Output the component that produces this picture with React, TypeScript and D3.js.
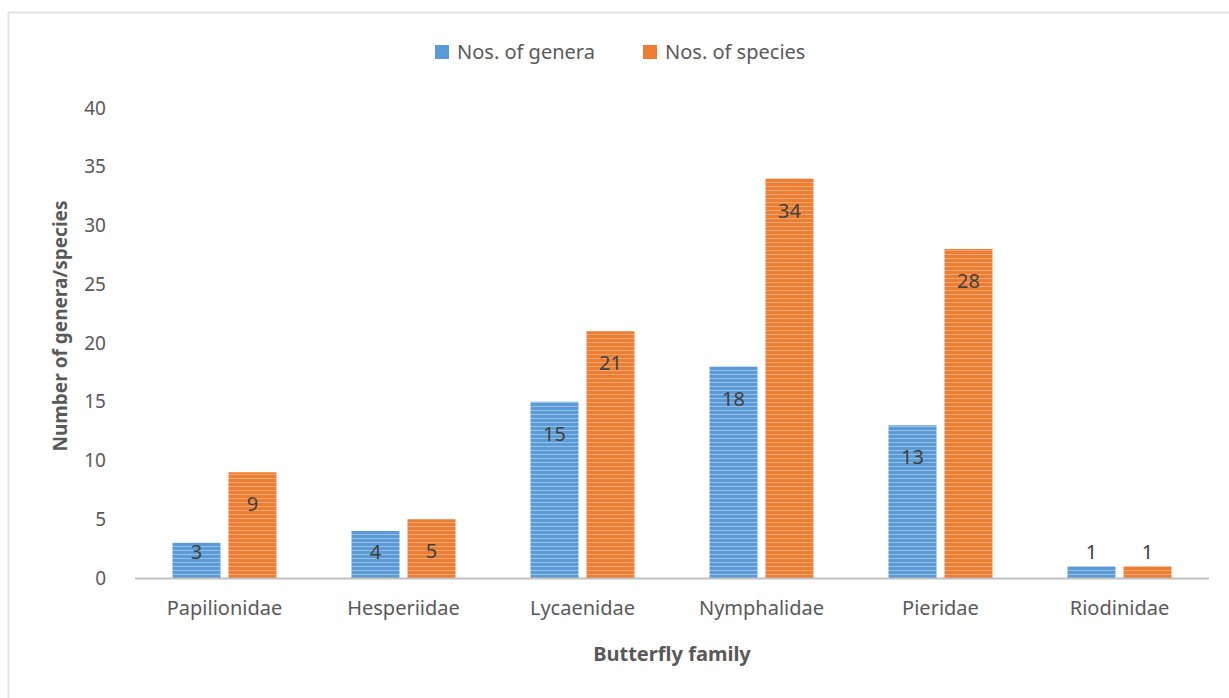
import React, { useEffect, useRef } from "react";
import * as d3 from "d3";

const families = ["Papilionidae", "Hesperiidae", "Lycaenidae", "Nymphalidae", "Pieridae", "Riodinidae"];
const genera = [3, 4, 15, 18, 13, 1];
const species = [9, 5, 21, 34, 28, 1];
const seriesNames = ["Nos. of genera", "Nos. of species"];
const yTicks = [0, 5, 10, 15, 20, 25, 30, 35, 40];

const colors = ["#5b9bd5", "#ed7d31"];
const stripes = ["#a9cbec", "#f7b48a"];
const FONT = "'Noto Sans', 'Open Sans', sans-serif";

export default function App() {
  const ref = useRef<SVGSVGElement>(null);

  useEffect(() => {
    const svg = d3.select(ref.current);
    svg.selectAll("*").remove();

    const x0 = 135;
    const x1 = 1209;
    const yBase = 578;
    const yTop = 108;

    // stripe patterns
    const defs = svg.append("defs");
    colors.forEach((c, i) => {
      const p = defs
        .append("pattern")
        .attr("id", `stripe${i}`)
        .attr("patternUnits", "userSpaceOnUse")
        .attr("width", 8)
        .attr("height", 4);
      p.append("rect").attr("width", 8).attr("height", 4).attr("fill", c);
      p.append("rect").attr("y", 2).attr("width", 8).attr("height", 1).attr("fill", stripes[i]).attr("opacity", 0.8);
    });

    // chart frame
    svg
      .append("rect")
      .attr("x", 8.5)
      .attr("y", 12.5)
      .attr("width", 1300)
      .attr("height", 800)
      .attr("fill", "white")
      .attr("stroke", "#e3e3e3")
      .attr("stroke-width", 2);

    const x = d3.scaleBand<string>().domain(families).range([x0, x1]).paddingInner(0.419).paddingOuter(0.2095);
    const xs = d3.scaleBand<string>().domain(seriesNames).range([0, x.bandwidth()]).paddingInner(0.143);
    const y = d3.scaleLinear().domain([0, 40]).range([yBase, yTop]);

    // y tick labels
    svg
      .append("g")
      .selectAll("text")
      .data(yTicks)
      .join("text")
      .attr("x", 106)
      .attr("y", (d) => y(d))
      .attr("dy", "0.35em")
      .attr("text-anchor", "end")
      .attr("font-family", FONT)
      .attr("font-size", 19)
      .attr("fill", "#595959")
      .text((d) => d);

    // bars
    const data = [genera, species];
    data.forEach((vals, si) => {
      svg
        .append("g")
        .selectAll("rect")
        .data(vals)
        .join("rect")
        .attr("x", (_, i) => x(families[i])! + xs(seriesNames[si])!)
        .attr("y", (d) => y(d))
        .attr("width", xs.bandwidth())
        .attr("height", (d) => yBase - y(d))
        .attr("fill", `url(#stripe${si})`);

      svg
        .append("g")
        .selectAll("text")
        .data(vals)
        .join("text")
        .attr("x", (_, i) => x(families[i])! + xs(seriesNames[si])! + xs.bandwidth() / 2)
        .attr("y", (d) => (d < 2 ? y(d) - 14 : Math.min(y(d) + 32, yBase - 26)))
        .attr("dy", "0.35em")
        .attr("text-anchor", "middle")
        .attr("font-family", FONT)
        .attr("font-size", 20)
        .attr("fill", "#404040")
        .text((d) => d);
    });

    // x axis line
    svg
      .append("line")
      .attr("x1", x0)
      .attr("x2", x1)
      .attr("y1", yBase + 0.5)
      .attr("y2", yBase + 0.5)
      .attr("stroke", "#c0c0c0")
      .attr("stroke-width", 2);

    // category labels
    svg
      .append("g")
      .selectAll("text")
      .data(families)
      .join("text")
      .attr("x", (d) => x(d)! + x.bandwidth() / 2)
      .attr("y", 608)
      .attr("dy", "0.35em")
      .attr("text-anchor", "middle")
      .attr("font-family", FONT)
      .attr("font-size", 20)
      .attr("fill", "#595959")
      .text((d) => d);

    // axis titles
    svg
      .append("text")
      .attr("x", 672)
      .attr("y", 654)
      .attr("dy", "0.35em")
      .attr("text-anchor", "middle")
      .attr("font-family", FONT)
      .attr("font-size", 20)
      .attr("font-weight", "bold")
      .attr("fill", "#595959")
      .text("Butterfly family");

    svg
      .append("text")
      .attr("transform", `translate(60,326) rotate(-90)`)
      .attr("dy", "0.35em")
      .attr("text-anchor", "middle")
      .attr("font-family", FONT)
      .attr("font-size", 19)
      .attr("font-weight", "bold")
      .attr("fill", "#595959")
      .text("Number of genera/species");

    // legend
    const legendX = [435, 643];
    seriesNames.forEach((name, i) => {
      svg
        .append("rect")
        .attr("x", legendX[i])
        .attr("y", 45)
        .attr("width", 14)
        .attr("height", 14)
        .attr("fill", colors[i]);
      svg
        .append("text")
        .attr("x", legendX[i] + 22)
        .attr("y", 52)
        .attr("dy", "0.35em")
        .attr("font-family", FONT)
        .attr("font-size", 20)
        .attr("fill", "#595959")
        .text(name);
    });
  }, []);

  return (
    <svg
      ref={ref}
      width={1229}
      height={698}
      style={{ position: "absolute", left: 0, top: 0, display: "block" }}
    />
  );
}
